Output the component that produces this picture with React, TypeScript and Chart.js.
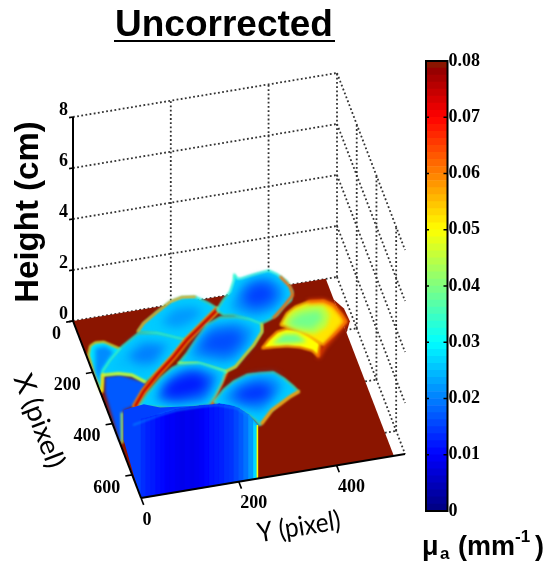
import React, { useEffect, useRef } from "react";
import { Chart, registerables } from "chart.js";

type P2 = [number, number];
type P3 = [number, number, number];

// ---- axes ----
const xMax = 690;
const yMax = 540;
const zMax = 8;
const floorYMax = 517;
const xTicks = [0, 200, 400, 600];
const yTicks = [0, 200, 400];
const zTicks = [0, 2, 4, 6, 8];
const colorTicks = [0, 0.01, 0.02, 0.03, 0.04, 0.05, 0.06, 0.07, 0.08];
const fingerHeight = 3;

// ---- absorption surface: contours in [X pixel, Y pixel] at fingerHeight ----
const pinkyTip: P2[] = [[422,339],[383,360],[364,381],[353,411],[359,440],[381,456],[423,465],[450,468],[470,452],[491,434],[521,407],[475,383],[442,362]];
const pinkyTipMid: P2[] = [[418,346],[380,371],[366,408],[375,437],[416,442],[456,427],[476,399],[460,379],[441,359]];
const pinkyTipCore: P2[] = [[414,357],[391,386],[390,424],[424,427],[456,398],[444,374],[430,359]];
const pinkyTipRim: P2[] = [[353,411],[359,440],[381,456],[423,465],[450,468],[470,452],[502,428],[530,406],[561,389]];
const pinkyBase: P2[] = [[496,286],[469,305],[444,328],[438,349],[452,374],[477,389],[513,402],[561,389],[535,381],[516,361],[503,336],[499,310]];
const pinkyBaseCore: P2[] = [[484,309],[457,339],[465,364],[499,378],[497,351],[489,325]];

const thumb: P2[] = [[382,-42],[373,-30],[375,-13],[397,3],[414,16],[442,-6],[485,-35],[557,-53],[547,-56],[479,-54],[414,-52]];
const thumbCore: P2[] = [[394,-34],[392,-13],[418,-1],[478,-37],[525,-52],[480,-51]];

const indexTip: P2[] = [[359,60],[332,77],[303,107],[269,145],[260,170],[266,196],[298,217],[327,232],[365,200],[393,167],[416,146],[403,128],[374,96]];
const indexTipMid: P2[] = [[359,79],[318,114],[279,156],[285,196],[322,216],[371,179],[395,146],[369,111]];
const indexTipCore: P2[] = [[342,109],[296,149],[301,186],[326,201],[360,167],[371,138]];
const indexTipRim: P2[] = [[359,60],[332,77],[303,107],[269,145],[260,170],[266,196]];
const indexMid: P2[] = [[484,-38],[446,-14],[404,19],[366,60],[377,96],[403,128],[419,145],[466,112],[507,76],[547,37],[514,17],[500,-8],[497,-38]];
const indexMidInner: P2[] = [[477,-20],[424,18],[385,60],[418,122],[477,82],[522,42],[493,11]];
const indexMidCore: P2[] = [[444,21],[405,63],[426,106],[485,67],[476,38]];
const indexMidRim: P2[] = [[497,-38],[500,-8],[514,17],[547,37]];
const indexWall: P2[] = [[504,-36],[507,-6],[551,39],[601,15],[629,-2],[637,-25],[753,-50],[744,-56],[565,-48]];
const wallStreakA: P2[] = [[493,-39],[557,-53]];
const wallStreakB: P2[] = [[648,-31],[756,-52]];

const gapLeft: P2[] = [[629,1],[582,27],[529,65],[473,110],[420,148],[374,188],[328,228]];
const gapRight: P2[] = [[669,149],[616,174],[563,199]];

const middleTip: P2[] = [[269,267],[231,282],[207,288],[226,291],[227,300],[220,329],[215,357],[233,370],[267,384],[307,387],[337,378],[356,359],[383,340],[396,320],[406,301],[377,280],[356,257],[350,237],[328,228],[295,248]];
const middleTipMid: P2[] = [[290,273],[247,299],[236,349],[276,372],[321,369],[363,337],[377,300],[354,271],[330,255]];
const middleTipCore: P2[] = [[294,286],[252,315],[255,345],[297,357],[332,343],[346,306],[327,286]];
const middleTipRim: P2[] = [[245,375],[287,386],[319,385],[356,359],[390,332]];
const middleMid: P2[] = [[500,115],[468,139],[420,169],[377,198],[357,229],[367,261],[383,285],[407,304],[435,299],[479,273],[510,249],[547,222],[559,199],[532,173],[511,150]];
const middleMidInner: P2[] = [[482,139],[422,175],[381,211],[383,258],[419,288],[464,269],[517,231],[527,202],[505,172]];
const middleMidCore: P2[] = [[462,160],[403,199],[407,253],[449,262],[501,221],[485,190]];
const middleRightRim: P2[] = [[407,304],[435,299],[479,273],[510,249],[547,222],[559,199]];
const middleMidRim: P2[] = [[500,115],[511,150],[532,173],[559,199]];
const middleBase: P2[] = [[631,9],[591,33],[544,69],[514,99],[506,114],[513,157],[559,199],[594,185],[638,162],[671,142],[664,79],[640,25],[635,9]];
const middleBaseInner: P2[] = [[620,43],[560,79],[526,117],[532,153],[567,183],[629,154],[656,135],[646,82]];
const middleBaseCore: P2[] = [[593,59],[552,94],[540,138],[580,164],[624,138],[629,92],[621,67]];

const ring: P2[] = [[662,155],[625,182],[601,207],[584,238],[586,265],[591,291],[619,306],[649,317],[677,325],[688,306],[709,281],[733,256],[776,226],[754,221],[732,212],[700,194],[681,160]];
const ringInner: P2[] = [[660,168],[619,204],[596,246],[601,289],[650,300],[686,272],[733,235],[707,213],[678,185]];
const ringCore: P2[] = [[654,190],[624,220],[617,259],[651,282],[693,253],[688,217]];
const ringRim: P2[] = [[677,325],[690,305],[711,281],[728,260],[771,231]];

// palm: X pixel, Y pixel, height
const palmTop: P3[] = [[637,-25,3],[633,-7,3],[629,18,3],[650,47,3],[658,80,3],[665,112,3],[676,158,3],[700,194,3],[736,211,3],[777,221,3],[690,237,0],[690,0,0],[888,-54,3],[747,-47,3]];
const palmRim: P2[] = [[698,-17],[688,12],[678,42],[670,77],[672,125],[676,158],[700,194],[736,211],[777,221]];
const wallY = [0,10,20,30,40,50,60,70,80,90,100,110,120,130,140,150,160,170,180,190,200,210,220,230,237];
const wallHeight = [3.1,3.1,3.12,3.15,3.15,3.18,3.2,3.24,3.24,3.24,3.24,3.23,3.23,3.22,3.2,3.19,3.18,3.12,3.06,2.98,2.88,2.72,2.56,2.3,2.13];
const wallMu = [0.0135,0.0125,0.012,0.011,0.0105,0.0095,0.0095,0.009,0.0085,0.009,0.0085,0.009,0.0095,0.0105,0.0115,0.012,0.0125,0.0135,0.014,0.0155,0.017,0.019,0.022,0.027];
const floorBump: P2[] = [[80,517],[120,530],[170,532],[210,517]];

// ---- helpers ----
const clamp = (v: number) => Math.max(0, Math.min(1, v));
function jet(mu: number) {
  const t = mu / 0.08;
  const r = clamp(Math.min(4 * t - 1.5, -4 * t + 4.5));
  const g = clamp(Math.min(4 * t - 0.5, -4 * t + 3.5));
  const b = clamp(Math.min(4 * t + 0.5, -4 * t + 2.5));
  return `rgb(${Math.round(r * 255)},${Math.round(g * 255)},${Math.round(b * 255)})`;
}
const FLOOR = "#8b1500";

// orthographic view of the plot box
function view(X: number, Y: number, Z: number) {
  return { x: 73 + 0.0986 * X + 0.4889 * Y, y: 321 + 0.2565 * X - 0.0815 * Y - 25.5 * Z };
}

function line(pts: P3[], color: string, width: number, extra: any = {}) {
  return {
    data: pts.map((p) => view(p[0], p[1], p[2])),
    showLine: true, fill: false, pointRadius: 0, borderColor: color, borderWidth: width,
    borderCapStyle: "butt", ...extra,
  };
}
function poly(pts: P3[], color: string, borderColor = color, borderWidth = 0, blur = 0) {
  const closed = [...pts, pts[0]];
  return {
    data: closed.map((p) => view(p[0], p[1], p[2])),
    showLine: true, fill: "shape", pointRadius: 0, backgroundColor: color, borderColor, borderWidth, blur,
    borderJoinStyle: "round",
  };
}
const top = (c: P2[]): P3[] => c.map((p) => [p[0], p[1], fingerHeight]);
const flat = (c: P2[]): P3[] => c.map((p) => [p[0], p[1], 0]);
function blob(outer: P2[], layers: [P2[], number, number][], rimMu = 0.034, fillMu = 0.026) {
  return [
    poly(top(outer), jet(fillMu), jet(rimMu), 1.6, 0.8),
    ...layers.map(([c, mu, blur]) => poly(top(c), jet(mu), jet(mu), 0, blur)),
  ];
}
function rim(c: P2[], mu: number, width: number, blur = 0.8) {
  return { ...line(top(c), jet(mu), width, { borderCapStyle: "round" }), blur };
}

function gridDatasets() {
  const dot = { borderDash: [1.8, 2.4] };
  const c = "#333333";
  const w = 1.8;
  const out: any[] = [];
  for (const z of zTicks) {
    if (z > 0) out.push(line([[0, 0, z], [0, yMax, z]], c, w, dot));
    out.push(line([[0, yMax, z], [xMax, yMax, z]], c, w, dot));
  }
  for (const y of [200, 400, yMax]) out.push(line([[0, y, 0], [0, y, zMax]], c, w, dot));
  for (const x of [200, 400, 600]) {
    out.push(line([[x, yMax, 0], [x, yMax, zMax]], c, w, dot));
    out.push(line([[x, 0, 0], [x, yMax, 0]], c, w, dot));
  }
  out.push(line([[0, 0, 0], [0, yMax, 0]], c, w, dot));
  return out;
}

function surfaceDatasets() {
  const out: any[] = [];
  out.push(poly(flat([[0, 0], [0, floorYMax], [xMax, floorYMax], [xMax, 0]]), FLOOR));
  out.push(poly(flat(floorBump), FLOOR));
  // pinky
  out.push(...blob(pinkyBase, [[pinkyBaseCore, 0.039, 2]], 0.06, 0.05));
  out.push(...blob(pinkyTip, [[pinkyTipMid, 0.045, 2], [pinkyTipCore, 0.039, 3]], 0.056, 0.052));
  out.push(rim(pinkyTipRim, 0.064, 3, 2));
  // thumb
  out.push(...blob(thumb, [[thumbCore, 0.021, 2]], 0.052, 0.028));
  // index
  out.push(...blob(indexTip, [[indexTipMid, 0.026, 4], [indexTipCore, 0.022, 5]]));
  out.push(rim(indexTipRim, 0.058, 2));
  out.push(poly(top(indexWall), jet(0.017), jet(0.017), 0, 1.5));
  out.push(...blob(indexMid, [[indexMidInner, 0.025, 4], [indexMidCore, 0.02, 5]]));
  out.push(rim(indexMidRim, 0.047, 2.5));
  out.push(rim(wallStreakA, 0.052, 2));
  out.push(rim(wallStreakB, 0.044, 2));
  // gaps
  out.push(rim(gapLeft, 0.058, 6));
  out.push(rim(gapLeft, 0.075, 3.2));
  out.push(rim(gapRight, 0.062, 4));
  // middle
  out.push(...blob(middleTip, [[middleTipMid, 0.022, 4], [middleTipCore, 0.015, 6]]));
  out.push(rim(middleTipRim, 0.062, 2.5));
  out.push(...blob(middleMid, [[middleMidInner, 0.022, 4], [middleMidCore, 0.016, 6]]));
  out.push(rim(middleRightRim, 0.054, 2));
  out.push(rim(middleMidRim, 0.044, 2.5));
  out.push(...blob(middleBase, [[middleBaseInner, 0.02, 4], [middleBaseCore, 0.012, 6]]));
  // ring
  out.push(...blob(ring, [[ringInner, 0.022, 4], [ringCore, 0.014, 6]]));
  out.push(rim(ringRim, 0.058, 3, 1.2));
  // palm
  out.push(poly(palmTop, jet(0.015), jet(0.015), 0, 0.5));
  for (let i = 0; i < wallMu.length; i++) {
    const c = jet(wallMu[i]);
    out.push(poly([
      [xMax, wallY[i], 0], [xMax, wallY[i], wallHeight[i]],
      [xMax, wallY[i + 1], wallHeight[i + 1]], [xMax, wallY[i + 1], 0],
    ], c, c, 0.6));
  }
  out.push(rim(palmRim, 0.021, 1.2, 1));
  out.push(line([[xMax, 238, 0], [xMax, 238, 2.1]], jet(0.05), 1.6));
  return out;
}

function axisDatasets() {
  const k = "#000";
  const out: any[] = [
    line([[0, 0, 0], [xMax, 0, 0]], k, 2),
    line([[xMax, 0, 0], [xMax, yMax, 0]], k, 2),
    line([[0, 0, 0], [0, 0, zMax]], k, 2),
  ];
  for (const x of xTicks) out.push(line([[x, 0, 0], [x, -14, 0]], k, 1.6));
  for (const y of yTicks) out.push(line([[xMax, y, 0], [xMax + 27, y, 0]], k, 1.6));
  for (const z of zTicks) out.push(line([[0, 0, z], [0, -8, z]], k, 1.6));
  return out;
}

// must run before the Filler hook, so it is registered ahead of registerables
const surfaceBlur = {
  id: "surfaceBlur",
  beforeDatasetDraw(chart: any, args: any) {
    const b = chart.data.datasets[args.index].blur;
    chart.ctx.filter = b ? `blur(${b}px)` : "none";
  },
  afterDatasetDraw(chart: any) {
    chart.ctx.filter = "none";
  },
};
Chart.register(surfaceBlur);
Chart.register(...registerables);

const SERIF = '"Liberation Serif"';
const SANS = '"Liberation Sans"';

const labels3d = {
  id: "labels3d",
  afterDraw(chart: any) {
    const { ctx, scales } = chart;
    const at = (v: { x: number; y: number }) => ({
      x: scales.x.getPixelForValue(v.x),
      y: scales.y.getPixelForValue(v.y),
    });
    ctx.save();
    ctx.fillStyle = "#000";
    ctx.textBaseline = "middle";
    ctx.font = `bold 18px ${SERIF}`;
    ctx.textAlign = "right";
    for (const z of zTicks) {
      const p = at(view(0, 0, z));
      ctx.fillText(String(z), p.x - 5, p.y - 7);
    }
    for (const x of xTicks) {
      const p = at(view(x, 0, 0));
      ctx.fillText(String(x), p.x - 12, p.y + 13);
    }
    ctx.textAlign = "left";
    for (const y of yTicks) {
      const p = at(view(xMax, y, 0));
      ctx.fillText(String(y), p.x + 1.5, p.y + 22);
    }
    // title
    ctx.textBaseline = "alphabetic";
    ctx.font = `bold 37px ${SANS}`;
    ctx.fillText("Uncorrected", 115, 36);
    ctx.fillRect(114, 40, 221, 2);
    // z title
    ctx.save();
    ctx.translate(38, 212);
    ctx.rotate(-Math.PI / 2);
    ctx.textAlign = "center";
    ctx.font = `bold 33px ${SANS}`;
    ctx.fillText("Height (cm)", 0, 0);
    ctx.restore();
    // x title
    ctx.save();
    ctx.translate(39, 421);
    ctx.rotate((69 * Math.PI) / 180);
    ctx.scale(1.05, 1);
    ctx.textAlign = "center";
    ctx.textBaseline = "middle";
    ctx.font = `27px Lato`;
    ctx.fillText("X (pixel)", 0, 0);
    ctx.restore();
    // y title
    ctx.save();
    ctx.translate(299, 527);
    ctx.rotate((-9 * Math.PI) / 180);
    ctx.scale(0.9, 1);
    ctx.textAlign = "center";
    ctx.textBaseline = "middle";
    ctx.font = `27px Lato`;
    ctx.fillText("Y (pixel)", 0, 0);
    ctx.restore();
    // colour bar title
    ctx.textAlign = "left";
    ctx.font = `bold 27px ${SANS}`;
    ctx.fillText("\u03bc", 422, 555);
    ctx.font = `bold 17px ${SANS}`;
    ctx.fillText("a", 440, 559);
    ctx.font = `bold 27px ${SANS}`;
    ctx.fillText("(mm", 458, 555);
    ctx.font = `bold 17px ${SANS}`;
    ctx.fillText("-1", 515, 542);
    ctx.font = `bold 27px ${SANS}`;
    ctx.fillText(")", 535, 555);
    ctx.restore();
  },
};

const colorFrame = {
  id: "colorFrame",
  afterDraw(chart: any) {
    const { ctx, chartArea: a, scales } = chart;
    ctx.save();
    ctx.strokeStyle = "#000";
    ctx.lineWidth = 2;
    ctx.strokeRect(a.left, a.top, a.right - a.left, a.bottom - a.top);
    ctx.lineWidth = 1.5;
    for (const t of colorTicks.slice(1, -1)) {
      const y = scales.y.getPixelForValue(t);
      ctx.beginPath();
      ctx.moveTo(a.left, y); ctx.lineTo(a.left + 3, y);
      ctx.moveTo(a.right - 4, y); ctx.lineTo(a.right, y);
      ctx.stroke();
    }
    ctx.restore();
  },
};

export default function App() {
  const mainRef = useRef<HTMLCanvasElement>(null);
  const barRef = useRef<HTMLCanvasElement>(null);
  useEffect(() => {
    const datasets = [...gridDatasets(), ...surfaceDatasets(), ...axisDatasets()].reverse();
    const main = new Chart(mainRef.current!, {
      type: "scatter",
      data: { datasets },
      plugins: [labels3d],
      options: {
        animation: false, responsive: false, events: [],
        layout: { padding: 0 },
        plugins: { legend: { display: false }, tooltip: { enabled: false } },
        scales: {
          x: { type: "linear", min: 0, max: 549, display: false },
          y: { type: "linear", min: 0, max: 564, reverse: true, display: false },
        },
      },
    } as any);
    const levels = 64;
    const step = 0.08 / levels;
    const barSets = Array.from({ length: levels }, (_, i) => ({
      data: [step], backgroundColor: i === levels - 1 ? FLOOR : jet((i + 0.5) * step),
      borderWidth: 0, barPercentage: 1, categoryPercentage: 1,
    }));
    const bar = new Chart(barRef.current!, {
      type: "bar",
      data: { labels: ["mu"], datasets: barSets },
      plugins: [colorFrame],
      options: {
        animation: false, responsive: false, events: [],
        layout: { padding: { left: 10, top: 16, bottom: 14, right: 0 } },
        plugins: { legend: { display: false }, tooltip: { enabled: false } },
        scales: {
          x: { stacked: true, display: false },
          y: {
            stacked: true, position: "right", min: 0, max: 0.08,
            afterFit: (s: any) => { s.width = 101.5; },
            border: { display: false },
            grid: { display: false, drawTicks: false },
            ticks: {
              stepSize: 0.01, padding: 1, color: "#000",
              font: { family: "Liberation Serif", weight: "bold", size: 18 },
              callback: (v: number) => (v === 0 ? "0" : Number(v).toFixed(2)),
            },
          },
        },
      },
    } as any);
    return () => { main.destroy(); bar.destroy(); };
  }, []);
  const soft = "blur(0.4px)";
  return (
    <div style={{ position: "absolute", left: 0, top: 0, width: 549, height: 564, background: "#fff" }}>
      <canvas ref={mainRef} width={549} height={564} style={{ position: "absolute", left: 0, top: 0, width: 549, height: 564, filter: soft }} />
      <canvas ref={barRef} width={133} height={480} style={{ position: "absolute", left: 416, top: 45, width: 133, height: 480, filter: soft }} />
    </div>
  );
}
